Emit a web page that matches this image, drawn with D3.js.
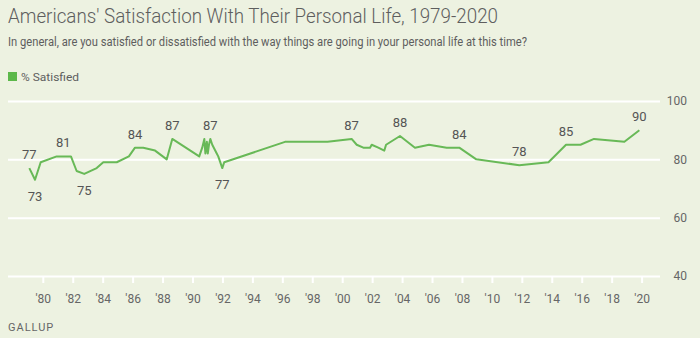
<!DOCTYPE html>
<html>
<head>
<meta charset="utf-8">
<script src="https://cdn.jsdelivr.net/npm/d3@7"></script>
<style>
  html, body { margin: 0; padding: 0; background: #edf2e1; }
  svg { display: block; }
  text { font-family: Roboto, "Noto Sans", sans-serif; fill: #666; }
</style>
</head>
<body>
<svg id="chart" width="700" height="338"></svg>
<script>
// Survey dates (decimal years) and % satisfied with personal life
const surveyDates = [
  1979.10, 1979.48, 1979.86, 1980.93, 1981.37, 1981.88, 1982.26, 1982.77,
  1983.60, 1984.04, 1984.94, 1985.75, 1986.16, 1986.71, 1987.50, 1988.28,
  1988.65, 1990.45, 1990.65, 1990.79, 1990.86, 1990.96, 1991.02, 1991.10,
  1991.19, 1991.32, 1991.62, 1991.72, 1991.99, 1992.12, 1996.18, 1999.02,
  2000.63, 2000.97, 2001.41, 2001.86, 2001.97, 2002.41, 2002.81, 2002.93,
  2003.86, 2004.86, 2005.80, 2006.98, 2007.82, 2008.96, 2011.83, 2013.78,
  2014.95, 2015.92, 2016.82, 2018.85, 2019.85
];
const satisfied = [
  77, 73, 79, 81, 81, 81, 76, 75,
  77, 79, 79, 81, 84, 84, 83, 80,
  87, 81, 84, 87, 82, 86, 82, 85,
  87, 85, 82, 81, 77, 79, 86, 86,
  87, 85, 84, 84, 85, 84, 83, 85,
  88, 84, 85, 84, 84, 80, 78, 79,
  85, 85, 87, 86, 90
];

// Annotated readings: survey date and whether the number sits above or below the line
const labelDates = [1979.10, 1979.48, 1981.37, 1982.77, 1986.16, 1988.65, 1991.19, 1991.99,
                    2000.63, 2003.86, 2007.82, 2011.83, 2014.95, 2019.85];
const labelSides = ["above", "below", "above", "below", "above", "above", "above", "below",
                    "above", "above", "above", "above", "above", "above"];

const yTicks = [40, 60, 80, 100];
const xTicks = d3.range(1980, 2021, 2);

const seriesName = "% Satisfied";
const lineColor = "#68b957";

const svg = d3.select("#chart");

const x = d3.scaleLinear().domain([1980, 2020]).range([42.8, 641.6]);
const y = d3.scaleLinear().domain([40, 100]).range([276, 101]);

// Title block
svg.append("text")
  .attr("x", 8).attr("y", 23)
  .attr("font-size", 20).attr("font-weight", 300)
  .attr("textLength", 490).attr("lengthAdjust", "spacingAndGlyphs")
  .style("fill", "#5e5e5e")
  .text("Americans' Satisfaction With Their Personal Life, 1979-2020");

svg.append("text")
  .attr("x", 8).attr("y", 46)
  .attr("font-size", 12)
  .attr("textLength", 519).attr("lengthAdjust", "spacingAndGlyphs")
  .style("fill", "#5e5e5e")
  .text("In general, are you satisfied or dissatisfied with the way things are going in your personal life at this time?");

// Legend
svg.append("rect")
  .attr("x", 8).attr("y", 72).attr("width", 9).attr("height", 9)
  .attr("fill", "#5cb84a");
svg.append("text")
  .attr("x", 21).attr("y", 81)
  .attr("font-size", 11.5)
  .attr("textLength", 58).attr("lengthAdjust", "spacingAndGlyphs")
  .style("fill", "#5e5e5e")
  .text(seriesName);

// Horizontal gridlines with value labels on the right
const yAxis = svg.append("g")
  .attr("transform", "translate(8,0)")
  .call(d3.axisRight(y).tickValues(yTicks).tickSize(652).tickFormat(d3.format("d")));
yAxis.select(".domain").remove();
yAxis.selectAll(".tick line").attr("stroke", "#ffffff").attr("stroke-width", 2);
yAxis.selectAll(".tick text")
  .attr("x", 679).attr("text-anchor", "end")
  .attr("font-size", 12)
  .style("fill", "#666");

// Year ticks under the baseline
const xAxis = svg.append("g")
  .attr("transform", `translate(0,${y(40)})`)
  .call(d3.axisBottom(x).tickValues(xTicks).tickSize(7).tickPadding(11)
    .tickFormat(d => "'" + String(d).slice(2)));
xAxis.select(".domain").remove();
xAxis.selectAll(".tick line").attr("stroke", "#ffffff").attr("stroke-width", 2);
xAxis.selectAll(".tick text")
  .attr("font-size", 12)
  .style("fill", "#666");

// Trend line
const points = surveyDates.map((d, i) => ({ date: d, value: satisfied[i] }));
svg.append("path")
  .datum(points)
  .attr("fill", "none")
  .attr("stroke", lineColor)
  .attr("stroke-width", 2)
  .attr("stroke-linejoin", "round")
  .attr("d", d3.line().x(d => x(d.date)).y(d => y(d.value)));

// Value annotations
const labels = labelDates.map((d, i) => ({
  date: d,
  value: satisfied[surveyDates.indexOf(d)],
  side: labelSides[i]
}));
svg.append("g").selectAll("text")
  .data(labels)
  .join("text")
  .attr("x", d => x(d.date))
  .attr("y", d => d.side === "above" ? y(d.value) - 13.5 : y(d.value) + 16.5)
  .attr("dy", "0.35em")
  .attr("text-anchor", "middle")
  .attr("font-size", 13)
  .style("fill", "#555")
  .text(d => d.value);

// Source mark
svg.append("text")
  .attr("x", 8).attr("y", 331)
  .attr("font-size", 11)
  .attr("letter-spacing", 1)
  .style("fill", "#666")
  .text("GALLUP");
</script>
</body>
</html>
